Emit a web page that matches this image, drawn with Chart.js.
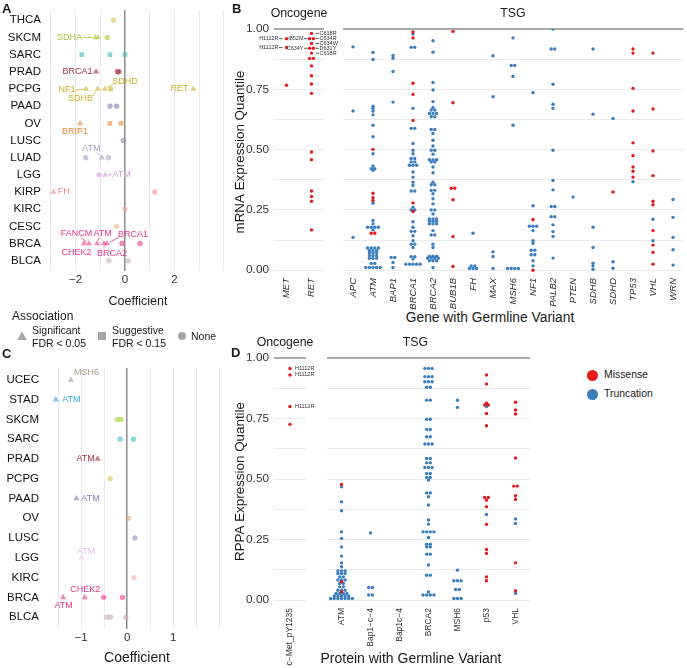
<!DOCTYPE html>
<html>
<head>
<meta charset="utf-8">
<script src="https://cdn.jsdelivr.net/npm/chart.js@4.4.1/dist/chart.umd.min.js"></script>
<style>
body { margin: 0; background: #fff; font-family: "Liberation Sans", Arial, Helvetica, sans-serif; }
#fig { position: relative; width: 687px; height: 668px; overflow: hidden; }
#fig canvas { position: absolute; }
.t { position: absolute; white-space: nowrap; color: #1a1a1a; line-height: 1; }
</style>
</head>
<body>
<div id="fig">
  <canvas id="cA" width="232" height="312" style="left:0;top:0"></canvas>
  <canvas id="cC" width="232" height="323" style="left:0;top:345px"></canvas>
  <canvas id="cB2" width="352" height="310" style="left:335px;top:0"></canvas>
  <canvas id="cB1" width="110" height="310" style="left:232px;top:0"></canvas>
  <canvas id="cD2" width="215" height="338" style="left:319px;top:330px"></canvas>
  <canvas id="cD1" width="100" height="338" style="left:232px;top:330px"></canvas>
</div>
<script>
// ---- panel A : coefficient by cancer type (mRNA) ----
const aTypes = ['THCA','SKCM','SARC','PRAD','PCPG','PAAD','OV','LUSC','LUAD','LGG','KIRP','KIRC','CESC','BRCA','BLCA'];
const aPtType = ['THCA','SKCM','SKCM','SKCM','SARC','SARC','SARC','PRAD','PRAD','PRAD',
  'PCPG','PCPG','PCPG','PCPG','PCPG','PAAD','PAAD','OV','OV','OV','LUSC','LUAD','LUAD','LUAD',
  'LGG','LGG','KIRP','KIRP','KIRC','CESC','BRCA','BRCA','BRCA','BRCA','BRCA','BRCA','BRCA','BLCA','BLCA'];
const aPtCoef = [-0.47,-1.21,-1.09,-0.72,-1.75,-0.61,0.0,-1.17,-0.31,-0.24,
  -1.58,-1.11,-0.81,-0.58,2.77,-0.61,-0.34,-1.82,-0.61,-0.16,-0.07,-1.59,-0.94,-0.67,
  -1.05,-0.81,-2.9,1.21,0.0,-0.34,-1.66,-1.46,-1.13,-0.85,-0.73,-0.12,0.61,-0.65,0.13];
// S = significant, G = suggestive, N = none
const aPtSig = ['N','S','S','N','G','G','G','S','N','N',
  'S','S','S','G','S','N','N','S','G','G','N','N','S','N',
  'N','S','S','G','N','N','S','S','S','S','S','N','N','N','N'];
const aPtGene = ['','SDHA','','','','','','BRCA1','','',
  'NF1','SDHB','SDHD','','RET','','','BRIP1','','','','','ATM','',
  '','ATM','FH','','','','CHEK2','FANCM','ATM','BRCA2','BRCA1','','','',''];

// ---- panel C : coefficient by cancer type (protein) ----
const cTypes = ['UCEC','STAD','SKCM','SARC','PRAD','PCPG','PAAD','OV','LUSC','LGG','KIRC','BRCA','BLCA'];
const cPtType = ['UCEC','STAD','SKCM','SKCM','SKCM','SARC','SARC','PRAD','PCPG','PAAD','OV','LUSC','LGG','KIRC',
  'BRCA','BRCA','BRCA','BRCA','BLCA','BLCA','BLCA'];
const cPtCoef = [-1.22,-1.55,-0.22,-0.17,-0.12,-0.15,0.14,-0.64,-0.37,-1.1,0.03,0.17,-0.99,0.15,
  -1.39,-0.92,-0.51,-0.1,-0.44,-0.36,-0.03];
const cPtSig = ['S','S','N','N','N','N','N','S','N','S','G','N','S','N','S','S','N','N','N','N','N'];
const cPtGene = ['MSH6','ATM','','','','','','ATM','','ATM','','','ATM','','ATM','CHEK2','','','','',''];

// ---- panel B : mRNA expression quantile ----
const bOncoGenes = ['MET','RET'];
const bOncoMissense = [
  [0.96,0.923,0.767],
  [0.982,0.96,0.96,0.94,0.92,0.92,0.90,0.878,0.878,0.847,0.806,0.772,0.733,0.49,0.458,0.328,0.306,0.286,0.167]
];
const bOncoTrunc = [[],[]];
const bOncoNotes = [[0,0.96,'H1112R','L'],[0,0.923,'H1112R','L'],[1,0.982,'C618R','R'],[1,0.96,'I852M','L'],
  [1,0.96,'C634R','R'],[1,0.94,'C634W','R'],[1,0.92,'C634Y','L'],[1,0.92,'D631Y','R'],[1,0.90,'C618R','R']];

const bTsgGenes = ['APC','ATM','BAP1','BRCA1','BRCA2','BUB1B','FH','MAX','MSH6','NF1','PALB2','PTEN','SDHB','SDHD','TP53','VHL','WRN'];
const bTsgMissense = [
  [],
  [0.501,0.319,0.30,0.289,0.153,0.153],
  [],
  [0.988,0.963,0.775,0.729,0.621,0.279,0.243],
  [],
  [0.99,0.694,0.34,0.34,0.292,0.139,0.015],
  [], [], [],
  [0.21,0.0],
  [], [], [],
  [0.324],
  [0.917,0.90,0.754,0.66,0.528,0.475,0.428,0.41,0.386],
  [0.90,0.668,0.494,0.392,0.286,0.271,0.164,0.104,0.074,0.025],
  []
];
const bTsgTrunc = [
  [0.926,0.66,0.136],
  [0.903,0.874,0.68,0.671,0.66,0.644,0.601,0.553,0.483,0.432,0.421,0.421,0.414,0.278,0.206,0.192,
   0.178,0.178,0.178,0.178,0.167,0.092,0.092,0.092,0.092,0.081,0.081,0.081,0.071,0.071,0.071,
   0.06,0.06,0.06,0.049,0.049,0.049,0.028,0.028,0.011,0.011,0.011,0.011,0.011],
  [0.89,0.879,0.824,0.697,0.053,0.053,0.032,0.011],
  [0.979,0.924,0.924,0.671,0.588,0.588,0.525,0.497,0.483,0.463,0.463,0.449,0.449,0.435,0.435,0.435,
   0.407,0.386,0.365,0.351,0.328,0.328,0.261,0.25,0.25,0.201,0.178,0.161,0.161,0.143,0.122,0.108,
   0.108,0.094,0.056,0.056,0.046,0.025,0.025,0.025,0.025,0.025],
  [0.951,0.904,0.778,0.747,0.699,0.675,0.664,0.664,0.65,0.65,0.65,0.636,0.636,0.583,0.583,0.567,
   0.539,0.515,0.497,0.497,0.481,0.458,0.458,0.458,0.449,0.449,0.428,0.404,0.365,0.354,0.354,0.331,
   0.331,0.317,0.296,0.275,0.25,0.25,0.233,0.212,0.212,0.212,0.203,0.203,0.203,0.192,0.192,0.192,
   0.164,0.146,0.146,0.108,0.094,0.058,0.058,0.058,0.05,0.05,0.05,0.05,0.039,0.039,0.039,0.011],
  [],
  [0.153,0.018,0.018,0.007,0.007,0.007],
  [0.889,0.719,0.076,0.057,0.007],
  [0.963,0.849,0.849,0.803,0.601,0.007,0.007,0.007,0.007],
  [0.736,0.267,0.182,0.182,0.182,0.164,0.122,0.111,0.083,0.083,0.064,0.064,0.039,0.018],
  [1.0,0.917,0.917,0.771,0.688,0.671,0.497,0.372,0.333,0.264,0.264,0.222,0.222,0.188,0.16,0.14,0.05],
  [0.303],
  [0.917,0.647,0.178,0.094,0.029,0.018,0.004],
  [0.629,0.035,0.008],
  [0.367],
  [0.211,0.122],
  [0.293,0.219,0.136,0.085,0.021]
];

// ---- panel D : RPPA expression quantile ----
const dOncoProteins = ['c\u2212Met_pY1235'];
const dOncoMissense = [[0.957,0.93,0.80,0.726]];
const dOncoTrunc = [[]];
const dOncoNotes = [[0,0.957,'H1112R','R'],[0,0.93,'H1112R','R'],[0,0.80,'H1112R','R']];

const dTsgProteins = ['ATM','Bap1\u2212c\u22124','Bap1c\u22124','BRCA2','MSH6','p53','VHL'];
const dTsgMissense = [
  [0.478,0.076,0.035],
  [], [], [], [],
  [0.93,0.893,0.813,0.806,0.806,0.771,0.72,0.424,0.424,0.413,0.386,0.313,0.209,0.193,0.096,0.08],
  [0.817,0.785,0.769,0.587,0.471,0.471,0.431,0.416,0.154,0.039]
];
const dTsgTrunc = [
  [0.468,0.406,0.369,0.282,0.255,0.22,0.182,0.154,0.138,0.121,0.121,0.121,0.11,0.11,0.11,0.096,0.096,
   0.083,0.083,0.083,0.069,0.069,0.055,0.055,0.041,0.041,0.041,0.028,0.028,0.028,0.028,
   0.017,0.017,0.017,0.017,0.017,0.007,0.007,0.007,0.007,0.007,0.007,0.007],
  [0.278,0.052,0.052,0.021,0.021],
  [],
  [0.957,0.957,0.957,0.923,0.923,0.923,0.902,0.902,0.902,0.879,0.879,0.826,0.826,0.747,0.747,0.705,0.705,
   0.675,0.675,0.645,0.645,0.645,0.585,0.585,0.567,0.567,0.548,0.548,0.548,0.523,0.523,0.507,0.507,0.496,
   0.443,0.443,0.427,0.393,0.331,0.314,0.282,0.282,0.282,0.282,0.259,0.231,0.231,0.22,0.22,0.19,0.19,
   0.145,0.103,0.103,0.034,0.021,0.021,0.021,0.021],
  [0.826,0.796,0.124,0.08,0.08,0.08,0.044,0.044,0.007,0.007,0.007],
  [0.80,0.354],
  [0.335,0.317,0.028]
];

// ---- styles ----
const FONT = '"Liberation Sans", Arial, Helvetica, sans-serif';
Chart.defaults.font.family = FONT;
Chart.defaults.color = '#1a1a1a';
Chart.defaults.animation = false;

const colA = {THCA:'#d2c35a', SKCM:'#a6c63a', SARC:'#35bdb5', PRAD:'#9e3047', PCPG:'#c9b12a', PAAD:'#7c7fb8',
  OV:'#e8873a', LUSC:'#8d8aa9', LUAD:'#a9a2c2', LGG:'#cf9fd6', KIRP:'#ef8585', KIRC:'#f2a99f',
  CESC:'#efb67e', BRCA:'#e6378b', BLCA:'#c9aec0'};
const colC = {UCEC:'#a79b8b', STAD:'#2fa7df', SKCM:'#b5d957', SARC:'#3cc2ba', PRAD:'#a0303f', PCPG:'#d8c650',
  PAAD:'#7c7fb8', OV:'#eba468', LUSC:'#9a8fbb', LGG:'#e9bfe2', KIRC:'#f2b0b0', BRCA:'#e6378b', BLCA:'#c9aabb'};
const RED = '#e31a1c', BLUE = '#3a7ebf';

const aNotePos = [[-25.5,0,-13,0],[-18.5,0],[-19,1,-11,1],[-17,10,-5,7],[20,-7,8,-5],[-14,0],[-5,8],
  [-10.5,-9,-5,-5],[16.5,0,7,0],[10.5,0],[-7.5,9],[-12.5,-10,-8,-6],[5.5,-10,2,-6],[8,10,0,5],[26,-9,12,-6]];
const cNotePos = [[15.5,-7],[15.5,0],[-12,0],[14,0],[4.5,-6],[0.5,8],[0.5,-8]];

function rgba(hex, a) {
  const n = parseInt(hex.slice(1), 16);
  return 'rgba(' + (n >> 16) + ',' + ((n >> 8) & 255) + ',' + (n & 255) + ',' + a + ')';
}
const shapeOf = {S: 'triangle', G: 'rect', N: 'circle'};
const sizeOf = {S: 3.6, G: 3.3, N: 2.7};
const minus = v => (v < 0 ? '\u2212' + Math.abs(v) : String(v));

// text labels with optional leader line, drawn in data space
function notesPlugin(items, font) {
  return {
    id: 'notes',
    afterDatasetsDraw(chart) {
      const {ctx, scales: {x, y}} = chart;
      ctx.save();
      ctx.font = font;
      ctx.textBaseline = 'middle';
      ctx.lineWidth = 0.8;
      items.forEach(n => {
        const px = x.getPixelForValue(n.x), py = y.getPixelForValue(n.y);
        ctx.fillStyle = ctx.strokeStyle = n.color;
        ctx.textAlign = n.align || 'center';
        ctx.fillText(n.text, px + n.dx, py + n.dy);
        if (n.lx !== undefined) {
          const sx = px + n.lx, sy = py + n.ly;
          const d = Math.hypot(px - sx, py - sy) || 1;
          const g = n.gap === undefined ? 3 : n.gap;
          ctx.beginPath();
          ctx.moveTo(sx, sy);
          ctx.lineTo(px - (px - sx) / d * g, py - (py - sy) / d * g);
          ctx.stroke();
        }
      });
      ctx.restore();
    }
  };
}

function stripPlugin(text, dx) {
  return {
    id: 'strip',
    afterDraw(chart) {
      const {ctx, chartArea: a} = chart;
      ctx.save();
      ctx.font = '12.3px ' + FONT;
      ctx.fillStyle = '#1a1a1a';
      ctx.textAlign = 'center';
      ctx.textBaseline = 'middle';
      ctx.fillText(text, (a.left + a.right) / 2 + dx, a.top - 15);
      ctx.restore();
    }
  };
}

function coefChart(id, types, ptType, ptCoef, ptSig, ptGene, notePos, cols, o) {
  const notes = [];
  let k = 0;
  ptGene.forEach((g, i) => {
    if (!g) return;
    const p = notePos[k++];
    const n = {x: ptCoef[i], y: types.indexOf(ptType[i]), text: g, dx: p[0], dy: p[1], color: cols[ptType[i]]};
    if (p.length > 2) { n.lx = p[2]; n.ly = p[3]; }
    notes.push(n);
  });
  return new Chart(document.getElementById(id), {
    type: 'scatter',
    data: {
      datasets: [{
        data: ptCoef.map((c, i) => ({x: c, y: types.indexOf(ptType[i])})),
        pointStyle: ptSig.map(s => shapeOf[s]),
        pointRadius: ptSig.map(s => sizeOf[s]),
        backgroundColor: ptType.map(t => rgba(cols[t], 0.6)),
        borderWidth: 0
      }]
    },
    options: {
      responsive: false,
      devicePixelRatio: 1,
      layout: {padding: o.padding},
      plugins: {legend: {display: false}, tooltip: {enabled: false}},
      scales: {
        x: {
          type: 'linear', min: o.xMin, max: o.xMax,
          afterBuildTicks: s => { s.ticks = o.xGrid.map(v => ({value: v})); },
          ticks: {callback: v => (o.xLab.includes(v) ? minus(v) : ''), font: {size: 11.5}, color: '#333',
                  padding: 2, maxRotation: 0, autoSkip: false},
          grid: {drawTicks: false,
                 color: c => (c.tick && c.tick.value === 0 ? '#8c8c8c' : '#ebebeb'),
                 lineWidth: c => (c.tick && c.tick.value === 0 ? 1.5 : 1)},
          border: {display: false},
          title: {display: true, text: 'Coefficient', font: {size: o.titleSize}, padding: {top: 0, bottom: o.titlePad}},
          afterFit: s => { s.height = o.xHeight; s.paddingLeft = 0; s.paddingRight = 0; }
        },
        y: {
          type: 'linear', reverse: true, min: -0.6, max: types.length - 0.4,
          afterBuildTicks: s => { s.ticks = types.map((t, i) => ({value: i})); },
          ticks: {callback: v => types[v], font: {size: 11.5}, color: '#111', padding: o.yPad, autoSkip: false},
          grid: {display: false, drawTicks: false},
          border: {display: false},
          afterFit: s => { s.width = o.yWidth; s.paddingTop = 0; s.paddingBottom = 0; }
        }
      }
    },
    plugins: [notesPlugin(notes, '9px ' + FONT)]
  });
}

coefChart('cA', aTypes, aPtType, aPtCoef, aPtSig, aPtGene, aNotePos, colA,
  {padding: {top: 10, right: 4, left: 0, bottom: 0}, xMin: -3.117, xMax: 4.17,
   xGrid: [-3,-2,-1,0,1,2,3,4], xLab: [-2,0,2], titleSize: 12.5, titlePad: 2.5, xHeight: 41, yWidth: 48, yPad: 7});
coefChart('cC', cTypes, cPtType, cPtCoef, cPtSig, cPtGene, cNotePos, colC,
  {padding: {top: 23, right: 2, left: 0, bottom: 0}, xMin: -1.763, xMax: 2.194,
   xGrid: [-1.5,-1,-0.5,0,0.5,1,1.5,2], xLab: [-1,0,1], titleSize: 14, titlePad: 1.5, xHeight: 39, yWidth: 46, yPad: 7});

// dot plots: points of equal value sit side by side
function dotChart(id, cats, mis, tru, notes, o) {
  const red = [], blue = [];
  cats.forEach((c, i) => {
    const rows = new Map();
    const add = (v, t) => { const key = v.toFixed(3); if (!rows.has(key)) rows.set(key, []); rows.get(key).push({v, t}); };
    mis[i].forEach(v => add(v, 0));
    tru[i].forEach(v => add(v, 1));
    rows.forEach(r => r.forEach((p, k) => {
      (p.t ? blue : red).push({x: i + (k - (r.length - 1) / 2) * o.step, y: p.v});
    }));
  });
  const items = [];
  (notes || []).forEach(n => {
    const left = n[3] === 'L';
    const it = {x: n[0], y: n[1], text: n[2], dy: 0, color: '#333', align: left ? 'right' : 'left',
                dx: left ? -o.noteGap : o.noteGap, gap: 4};
    if (o.dash) { it.lx = left ? -o.noteGap + 0.5 : o.noteGap - 0.5; it.ly = 0; }
    items.push(it);
  });
  const yTicks = [0, 0.125, 0.25, 0.375, 0.5, 0.625, 0.75, 0.875, 1];
  return new Chart(document.getElementById(id), {
    type: 'scatter',
    data: {
      datasets: [
        {data: red, backgroundColor: RED, pointRadius: 1.7, borderWidth: 0},
        {data: blue, backgroundColor: BLUE, pointRadius: 1.7, borderWidth: 0}
      ]
    },
    options: {
      responsive: false,
      devicePixelRatio: 1,
      layout: {padding: o.padding},
      plugins: {legend: {display: false}, tooltip: {enabled: false}},
      scales: {
        x: {
          type: 'linear', min: -0.5, max: cats.length - 0.5,
          afterBuildTicks: s => { s.ticks = cats.map((c, i) => ({value: i})); },
          ticks: {callback: v => cats[v], font: {size: o.xFont, style: o.italic ? 'italic' : 'normal'},
                  color: '#333', minRotation: 90, maxRotation: 90, autoSkip: false, padding: 3},
          grid: {display: false, drawTicks: false},
          border: {display: false},
          afterFit: s => { s.height = o.xHeight; s.paddingLeft = 0; s.paddingRight = 0; }
        },
        y: {
          type: 'linear', min: -0.02, max: 1,
          afterBuildTicks: s => { s.ticks = yTicks.map(v => ({value: v})); },
          ticks: {display: !!o.yTitle, font: {size: 11.8}, color: '#333', padding: 5,
                  callback: v => (Math.abs(v * 4 - Math.round(v * 4)) < 1e-6 ? v.toFixed(2) : '')},
          grid: {drawTicks: false,
                 color: c => (c.tick && c.tick.value === 1 ? '#a8a8a8' : '#ebebeb'),
                 lineWidth: c => (c.tick && c.tick.value === 1 ? 2 : 1)},
          border: {display: false},
          title: {display: !!o.yTitle, text: o.yTitle || '', font: {size: 13.4}, padding: {top: 0, bottom: 0}},
          afterFit: s => { s.width = o.yWidth; s.paddingTop = 0; s.paddingBottom = 0; }
        }
      }
    },
    plugins: [notesPlugin(items, '5.5px ' + FONT), stripPlugin(o.strip, o.stripDx || 0)]
  });
}

dotChart('cB1', bOncoGenes, bOncoMissense, bOncoTrunc, bOncoNotes,
  {padding: {top: 29, right: 18, left: 0, bottom: 0}, step: 0.15, xFont: 9.5, italic: true, xHeight: 35,
   yTitle: 'mRNA Expression Quantile', yWidth: 42, strip: 'Oncogene', noteGap: 8, dash: true});
dotChart('cB2', bTsgGenes, bTsgMissense, bTsgTrunc, null,
  {padding: {top: 29, right: 2, left: 8, bottom: 0}, step: 0.18, xFont: 9.5, italic: true, xHeight: 35,
   yTitle: null, yWidth: 0, strip: 'TSG'});
dotChart('cD1', dOncoProteins, dOncoMissense, dOncoTrunc, dOncoNotes,
  {padding: {top: 28, right: 26, left: 0, bottom: 0}, step: 0.11, xFont: 8.5, italic: false, xHeight: 63,
   yTitle: 'RPPA Expression Quantile', yWidth: 42, strip: 'Oncogene', stripDx: -5, noteGap: 5});
dotChart('cD2', dTsgProteins, dTsgMissense, dTsgTrunc, null,
  {padding: {top: 28, right: 2, left: 8, bottom: 0}, step: 0.125, xFont: 8.5, italic: false, xHeight: 63,
   yTitle: null, yWidth: 0, strip: 'TSG', stripDx: -13});

// ---- html texts: panel letters, axis titles, legends ----
const fig = document.getElementById('fig');
function txt(s, x, y, size, css) {
  const d = document.createElement('div');
  d.className = 't';
  d.textContent = s;
  d.style.left = x + 'px';
  d.style.top = (y - size / 2) + 'px';
  d.style.fontSize = size + 'px';
  if (css) d.style.cssText += css;
  fig.appendChild(d);
  return d;
}
txt('A', 2, 8, 13, 'font-weight:bold');
txt('B', 232, 8, 13, 'font-weight:bold');
txt('C', 2, 353, 13, 'font-weight:bold');
txt('D', 231, 352, 13, 'font-weight:bold');
txt('Gene with Germline Variant', 490, 318, 13.8, 'transform:translateX(-50%)');
txt('Protein with Germline Variant', 411, 658, 14, 'transform:translateX(-50%)');

txt('Association', 12, 316, 12);
const shapes = {
  S: '<svg width="10" height="10"><polygon points="5,0.5 9.8,9 0.2,9" fill="#a6a6a6"/></svg>',
  G: '<svg width="10" height="10"><rect x="1" y="1" width="8" height="8" fill="#a6a6a6"/></svg>',
  N: '<svg width="10" height="10"><circle cx="5" cy="5" r="4" fill="#a6a6a6"/></svg>'
};
[['S', 17, 'Significant', 'FDR < 0.05'], ['G', 97, 'Suggestive', 'FDR < 0.15'], ['N', 177, 'None', '']].forEach(l => {
  const m = txt('', l[1], 336, 10);
  m.innerHTML = shapes[l[0]];
  if (l[3]) {
    txt(l[2], l[1] + 15, 330, 10.5);
    txt(l[3], l[1] + 15, 343, 10.5);
  } else {
    txt(l[2], l[1] + 14, 336, 10.5);
  }
});

[['Missense', RED, 375], ['Truncation', BLUE, 394]].forEach(l => {
  txt('', 587, l[2], 11, 'width:11px;height:11px;border-radius:50%;background:' + l[1]);
  txt(l[0], 604, l[2], 10.4);
});
</script>
</body>
</html>
